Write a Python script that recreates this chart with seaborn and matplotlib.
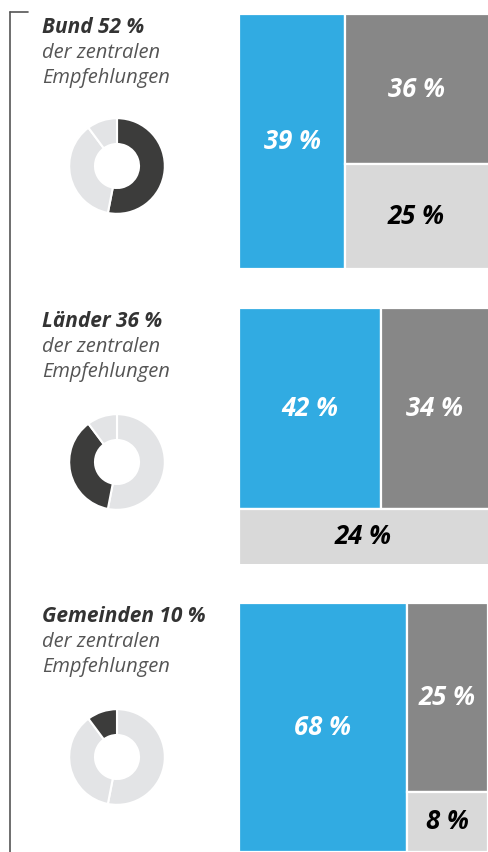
import matplotlib
matplotlib.use("Agg")
import matplotlib.pyplot as plt
import seaborn as sns
from matplotlib.lines import Line2D

# data
levels = ["Bund", "Länder", "Gemeinden"]
shares = [52, 36, 10]
subtitle_lines = ["der zentralen", "Empfehlungen"]
tree_values = [[39, 36, 25], [42, 34, 24], [68, 25, 8]]
tree_layout = ["cols", "rows", "cols"]

# styles
BLUE = "#31ABE2"
GREY = "#878787"
LIGHT = "#D9D9D9"
DARK = "#3C3C3B"
PALE = "#E3E4E6"
tree_colors = [BLUE, GREY, LIGHT]
text_colors = ["white", "white", "black"]
crop_x = [0.915, 0.967, 1.0]
crop_y = [0.0, 0.03, 0.0]

sns.set_theme(style="white")
plt.rcParams["font.family"] = ["Open Sans", "DejaVu Sans"]

W, H = 488, 852
fig = plt.figure(figsize=(W / 100, H / 100), dpi=100)


def px_axes(x0, y0, x1, y1):
    return fig.add_axes([x0 / W, 1 - y1 / H, (x1 - x0) / W, (y1 - y0) / H])


def layout(vals, mode):
    total = sum(vals)
    rects = []
    if mode == "cols":
        w0 = vals[0] / total
        rects.append((0, 0, w0, 1))
        rest = vals[1] + vals[2]
        h1 = vals[1] / rest
        rects.append((w0, 1 - h1, 1 - w0, h1))
        rects.append((w0, 0, 1 - w0, 1 - h1))
    else:
        h0 = (vals[0] + vals[1]) / total
        w0 = vals[0] / (vals[0] + vals[1])
        rects.append((0, 1 - h0, w0, h0))
        rects.append((w0, 1 - h0, 1 - w0, h0))
        rects.append((0, 0, 1, 1 - h0))
    return rects


tree_boxes = [(239, 14, 488, 269), (239, 308, 488, 564), (239, 603, 488, 852)]
donut_centers = [(117, 166), (117, 462), (117, 757)]
title_y = [33, 327, 622]

for i, lvl in enumerate(levels):
    # treemap
    ax = px_axes(*tree_boxes[i])
    rects = layout(tree_values[i], tree_layout[i])
    for (x, y, w, h), v, c, tc in zip(rects, tree_values[i], tree_colors, text_colors):
        ax.bar(x, h, width=w, bottom=y, align="edge", color=c,
               edgecolor="white", linewidth=1.6)
        xr = min(x + w, crop_x[i])
        yb = max(y, crop_y[i])
        ax.text((x + xr) / 2, (yb + y + h) / 2, f"{v} %", ha="center", va="center",
                color=tc, fontsize=18.5, fontweight="bold", fontstyle="italic")
    ax.set_xlim(0, crop_x[i])
    ax.set_ylim(crop_y[i], 1)
    ax.axis("off")

    # donut
    cx, cy = donut_centers[i]
    dax = px_axes(cx - 55, cy - 55, cx + 55, cy + 55)
    cols = [DARK if j == i else PALE for j in range(len(shares))]
    dax.pie(shares, colors=cols, startangle=90, counterclock=False, radius=1,
            wedgeprops=dict(width=0.54, edgecolor="white", linewidth=1.5))
    dax.set_xlim(-1.15, 1.15)
    dax.set_ylim(-1.15, 1.15)
    dax.set_aspect("equal")
    dax.axis("off")

    # labels
    fig.text(42 / W, 1 - title_y[i] / H, f"{lvl} {shares[i]} %", ha="left",
             va="baseline", fontsize=15, fontweight="bold", fontstyle="italic",
             color="#333333")
    for k, line in enumerate(subtitle_lines):
        fig.text(42 / W, 1 - (title_y[i] + 25 * (k + 1)) / H, line, ha="left",
                 va="baseline", fontsize=14.5, fontstyle="italic",
                 color="#555555")

# bracket on the left
fig.add_artist(Line2D([10 / W, 10 / W], [1 - 12 / H, 0], color="#555555", lw=1.2))
fig.add_artist(Line2D([10 / W, 28 / W], [1 - 12 / H, 1 - 12 / H], color="#555555", lw=1.2))

fig.savefig("out.png", dpi=100)
